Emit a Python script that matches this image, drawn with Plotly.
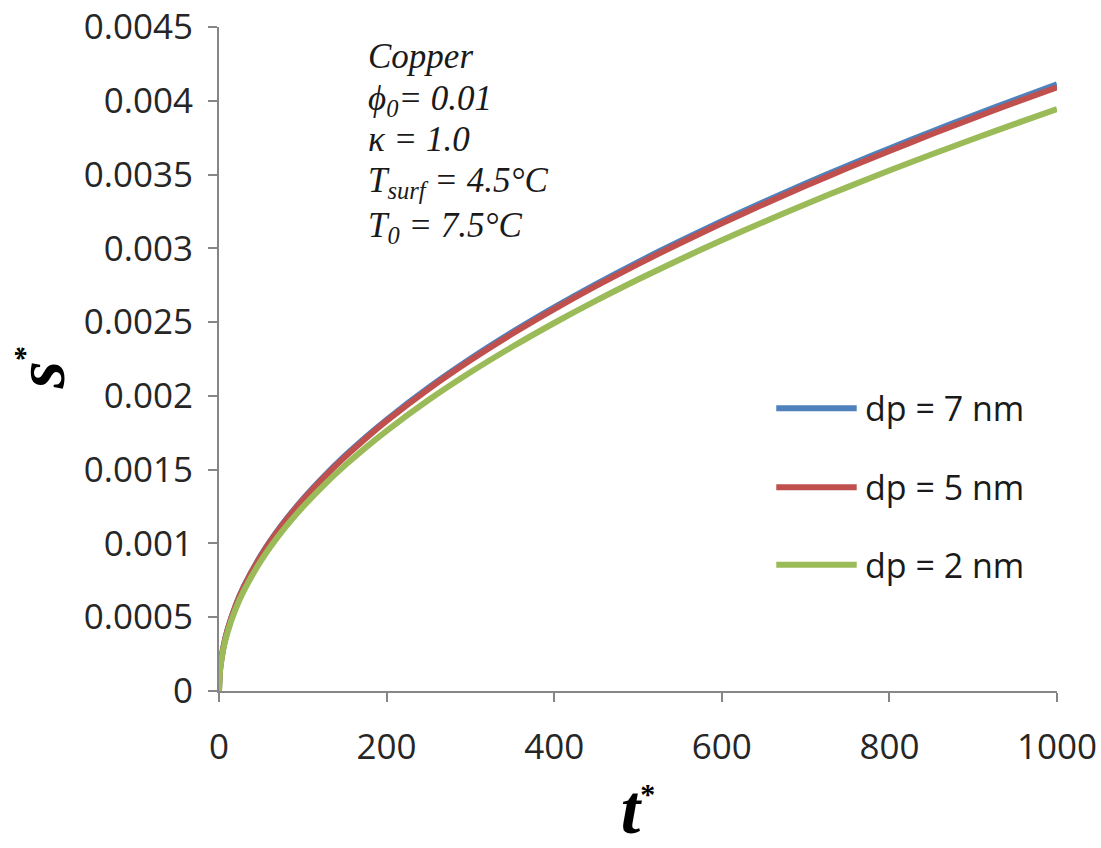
import plotly.graph_objects as go

# ---- data ----
t_star = [0, 1, 2, 5, 10, 20, 30, 50, 75, 100, 125, 150, 175, 200, 250, 300, 350, 400, 450, 500,
          550, 600, 650, 700, 750, 800, 850, 900, 950, 1000]
s_dp7 = [0, 1.3e-4, 1.8385e-4, 2.9069e-4, 4.1110e-4, 5.8137e-4, 7.1204e-4, 9.1924e-4, 1.1258e-3, 1.3e-3,
         1.4534e-3, 1.5922e-3, 1.7197e-3, 1.8385e-3, 2.0555e-3, 2.2517e-3, 2.4321e-3, 2.6e-3, 2.7577e-3,
         2.9069e-3, 3.0488e-3, 3.1843e-3, 3.3144e-3, 3.4395e-3, 3.5602e-3, 3.6770e-3, 3.7901e-3, 3.9e-3,
         4.0069e-3, 4.1110e-3]
s_dp5 = [0, 1.294e-4, 1.830e-4, 2.893e-4, 4.092e-4, 5.787e-4, 7.087e-4, 9.150e-4, 1.1206e-3, 1.294e-3,
         1.4467e-3, 1.5848e-3, 1.7118e-3, 1.8300e-3, 2.0460e-3, 2.2413e-3, 2.4209e-3, 2.588e-3, 2.7450e-3,
         2.8935e-3, 3.0347e-3, 3.1696e-3, 3.2991e-3, 3.4236e-3, 3.5438e-3, 3.6600e-3, 3.7726e-3, 3.882e-3,
         3.9884e-3, 4.0920e-3]
s_dp2 = [0, 1.247e-4, 1.7635e-4, 2.788e-4, 3.943e-4, 5.577e-4, 6.830e-4, 8.818e-4, 1.0799e-3, 1.247e-3,
         1.3942e-3, 1.5273e-3, 1.6496e-3, 1.7635e-3, 1.9717e-3, 2.1599e-3, 2.3329e-3, 2.494e-3, 2.6453e-3,
         2.7884e-3, 2.9245e-3, 3.0545e-3, 3.1792e-3, 3.2993e-3, 3.4150e-3, 3.5271e-3, 3.6356e-3, 3.741e-3,
         3.8435e-3, 3.9434e-3]

series_names = ["dp = 7 nm", "dp = 5 nm", "dp = 2 nm"]
series_values = [s_dp7, s_dp5, s_dp2]
series_colors = ["#4F81BD", "#C0504D", "#9BBB59"]

x_tickvals = [0, 200, 400, 600, 800, 1000]
x_ticktext = ["0", "200", "400", "600", "800", "1000"]
y_tickvals = [0, 0.0005, 0.001, 0.0015, 0.002, 0.0025, 0.003, 0.0035, 0.004, 0.0045]
y_ticktext = ["0", "0.0005", "0.001", "0.0015", "0.002", "0.0025", "0.003", "0.0035", "0.004", "0.0045"]

info_lines = [
    "Copper",
    "\u03d5<sub>0</sub>= 0.01",
    "\u03ba = 1.0",
    "T<sub>surf</sub> = 4.5\u00b0C",
    "T<sub>0</sub> = 7.5\u00b0C",
]

SANS = "Open Sans, Noto Sans, sans-serif"
SERIF = "Liberation Serif, Times New Roman, serif"
TICK_FONT = dict(family=SANS, size=35, color="#262626")
AXIS_COLOR = "#868686"

fig = go.Figure()
for name, vals, col in zip(series_names, series_values, series_colors):
    fig.add_trace(go.Scatter(
        x=t_star, y=vals, mode="lines", name=name,
        line=dict(color=col, width=6, shape="spline", smoothing=0.8),
        showlegend=False,
    ))

# manual legend (Excel style: long line sample)
legend_y = [0.426, 0.307, 0.190]
for name, col, ly in zip(series_names, series_colors, legend_y):
    fig.add_shape(type="line", xref="paper", yref="paper",
                  x0=0.665, x1=0.761, y0=ly, y1=ly,
                  line=dict(color=col, width=6))
    fig.add_annotation(xref="paper", yref="paper", x=0.768, y=ly,
                       text=name, showarrow=False, xanchor="left", yanchor="middle",
                       font=dict(family=SANS, size=34, color="#1a1a1a"))

# info text block
info_y = [0.955, 0.890, 0.830, 0.766, 0.698]
for txt, iy in zip(info_lines, info_y):
    fig.add_annotation(xref="paper", yref="paper", x=0.175, y=iy,
                       text="<i>" + txt + "</i>", showarrow=False,
                       xanchor="left", yanchor="middle",
                       font=dict(family=SERIF, size=35, color="#1a1a1a"))

# y-axis title as rotated annotation
fig.add_annotation(xref="paper", yref="paper", x=-0.213, y=0.487,
                   text="<b><i>s</i><sup><span style='font-size:30px'>*</span></sup></b>",
                   textangle=-90, showarrow=False, xanchor="center", yanchor="middle",
                   font=dict(family=SERIF, size=70, color="black"))

fig.update_layout(
    width=1101, height=848,
    margin=dict(l=219, r=44, t=27, b=157, autoexpand=False),
    paper_bgcolor="white", plot_bgcolor="white",
    showlegend=False,
    xaxis=dict(
        range=[0, 1000], tickvals=x_tickvals, ticktext=x_ticktext, automargin=False,
        showgrid=False, zeroline=False, showline=True, linecolor=AXIS_COLOR, linewidth=2,
        ticks="outside", ticklen=9, tickwidth=2, tickcolor=AXIS_COLOR,
        tickfont=TICK_FONT, ticklabelstandoff=15,
        title=dict(text="<b><i>t</i><sup><span style='font-size:30px'>*</span></sup></b>", standoff=26,
                   font=dict(family=SERIF, size=70, color="black")),
    ),
    yaxis=dict(
        range=[0, 0.0045], tickvals=y_tickvals, ticktext=y_ticktext, automargin=False,
        showgrid=False, zeroline=False, showline=True, linecolor=AXIS_COLOR, linewidth=2,
        ticks="outside", ticklen=9, tickwidth=2, tickcolor=AXIS_COLOR,
        tickfont=TICK_FONT, ticklabelstandoff=8,
    ),
)

fig.write_html("out.html")
